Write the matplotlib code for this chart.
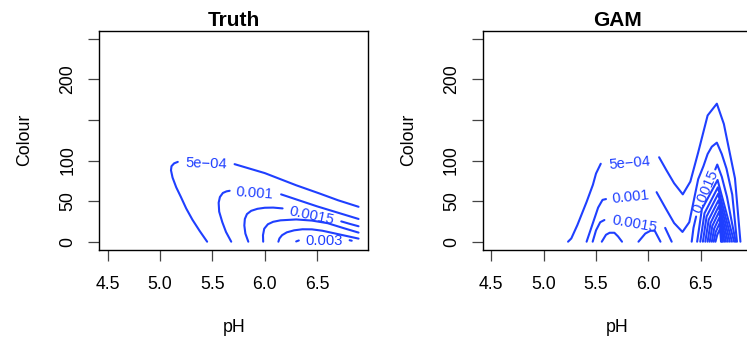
import matplotlib
matplotlib.use("Agg")
import matplotlib.pyplot as plt

plt.rcParams['font.family'] = ['Liberation Sans', 'DejaVu Sans']

BLUE = '#1f3fff'

# axis ticks shared by both panels
ph_ticks = [4.5, 5.0, 5.5, 6.0, 6.5]
ph_labels = ['4.5', '5.0', '5.5', '6.0', '6.5']
colour_ticks = [0, 50, 100, 150, 200, 250]
colour_labels = ['0', '50', '100', '', '200', '']

# ---- Truth: contour pieces as (pH, Colour), split where labels sit ----
truth_0005 = [
    ([5.45, 5.38, 5.31, 5.25, 5.20, 5.155, 5.12, 5.105, 5.11, 5.135, 5.17],
     [0, 13, 27, 41, 55, 67, 79, 88, 93, 96.5, 98.3]),
    ([5.712, 6.0, 6.3, 6.52, 6.7, 6.895], [95.5, 84.5, 69.5, 59.5, 51, 43]),
]
truth_0010 = [
    ([5.68, 5.63, 5.595, 5.565, 5.56, 5.572, 5.6, 5.635, 5.665],
     [0, 12, 24, 37, 48, 55, 60, 62, 62.7]),
    ([6.156, 6.5, 6.895], [58.3, 43.5, 28]),
]
truth_0015 = [
    ([5.843, 5.815, 5.805, 5.81, 5.83, 5.87, 5.93, 6.0, 6.08, 6.17],
     [0, 10, 20, 28, 34, 38, 40.5, 41.8, 42, 41]),
    ([6.73, 6.81, 6.895], [25, 22, 19]),
]
truth_0020 = [
    ([5.985, 5.983, 5.995, 6.03, 6.08, 6.15, 6.3, 6.45, 6.6, 6.75, 6.895],
     [0, 8, 16, 21.5, 24.5, 26.3, 27.4, 26, 22.8, 16.8, 11.2]),
]
truth_0025 = [
    ([6.13, 6.14, 6.165, 6.21, 6.28, 6.36, 6.45, 6.55, 6.7, 6.895],
     [0, 4, 8, 11.5, 14, 15.3, 15.2, 13.5, 9.3, 3.8]),
]
truth_0030 = [
    ([6.30, 6.325], [0.3, 1.5]),
    ([6.81, 6.83], [1.8, 1.2]),
]
truth_lab_text = ['5e\u221204', '0.001', '0.0015', '0.003']
truth_lab_ph = [5.445, 5.905, 6.45, 6.565]
truth_lab_col = [95.5, 59.5, 32, 0.8]
truth_lab_rot = [-2, -4, -12, 0]

# ---- GAM ----
gam_0005 = [
    ([5.233, 5.264, 5.322, 5.41, 5.47, 5.5, 5.545], [0, 4, 20.5, 49, 70, 84, 96]),
    ([6.102, 6.172, 6.245, 6.328, 6.40, 6.475, 6.565, 6.653, 6.72, 6.78, 6.826, 6.878],
     [104, 88, 72, 58.3, 74, 110, 155.5, 170, 145, 107, 78, 0]),
]
gam_0010 = [
    ([5.41, 5.465, 5.52, 5.562, 5.595], [0, 21, 42, 51.5, 52.5]),
    ([6.078, 6.165, 6.245, 6.325, 6.39, 6.475, 6.525, 6.565, 6.605, 6.653, 6.70, 6.745, 6.80, 6.845],
     [61, 41, 23, 12, 24, 77, 93, 108, 117, 122, 108, 90, 58, 0]),
]
gam_0015 = [
    ([5.468, 5.50, 5.54, 5.58], [0, 14, 24, 26.7]),
    ([6.16, 6.222], [17, 0]),
    ([6.413, 6.43, 6.455], [0, 17, 31]),
    ([6.638, 6.657, 6.70, 6.75, 6.79, 6.833], [89, 95, 80, 55, 28, 0]),
]
gam_0020 = [
    ([5.555, 5.595, 5.63, 5.675, 5.71, 5.748], [0, 8.5, 11, 11, 6.5, 0]),
    ([5.905, 5.97, 6.02, 6.06, 6.115], [0, 10, 13.5, 13.5, 0]),
]
# the dense inner contours of the right hump (0.002 and up)
hump_left = [6.465, 6.495, 6.52, 6.543, 6.565, 6.585, 6.605, 6.623, 6.64]
hump_mid_ph = [6.51, 6.535, 6.555, 6.575, 6.593, 6.61, 6.627, 6.642, 6.657]
hump_mid_col = [40, 35, 31, 27, 23, 19.5, 16, 12, 8.5]
hump_peak_ph = [6.66, 6.663, 6.666, 6.669, 6.672, 6.675, 6.678, 6.681, 6.684]
hump_peak_col = [76, 67, 59, 51, 44, 37, 30, 23, 16]
hump_right = [6.818, 6.797, 6.777, 6.758, 6.74, 6.724, 6.71, 6.70, 6.693]

gam_lab_text = ['5e\u221204', '0.001', '0.0015', '0.0015']
gam_lab_ph = [5.826, 5.834, 5.87, 6.548]
gam_lab_col = [96.4, 55.3, 21.5, 61.5]
gam_lab_rot = [5, 6, -10, 67]

LW = 1.5


def draw_pieces(ax, pieces):
    for xs, ys in pieces:
        ax.plot(xs, ys, color=BLUE, lw=LW, solid_capstyle='round',
                solid_joinstyle='round')


def draw_labels(ax, texts, xs, ys, rots):
    for t, x, y, r in zip(texts, xs, ys, rots):
        ax.text(x, y, t, color=BLUE, fontsize=10.6, rotation=r,
                rotation_mode='anchor', ha='center', va='center')


def setup(ax, title):
    ax.set_xlim(4.42, 6.99)
    ax.set_ylim(-10, 260)
    ax.set_xticks(ph_ticks)
    ax.set_xticklabels(ph_labels)
    ax.set_yticks(colour_ticks)
    ax.set_yticklabels(colour_labels)
    ax.tick_params(length=7.7, width=0.9, color='#444444', labelsize=12.7)
    ax.tick_params(axis='x', pad=11.5)
    ax.tick_params(axis='y', pad=8.7, labelrotation=90)
    for lab in ax.get_yticklabels():
        lab.set_va('center')
    for sp in ax.spines.values():
        sp.set_linewidth(1.0)
        sp.set_color('black')
    ax.set_xlabel('pH', fontsize=12.8)
    ax.set_ylabel('Colour', fontsize=12.8)
    ax.xaxis.set_label_coords(0.5, -0.316)
    ax.yaxis.set_label_coords(-0.244, 0.5)
    ax.text(0.5, 1.021, title, transform=ax.transAxes, ha='center',
            va='baseline', fontsize=15, fontweight='bold')


fig = plt.figure(figsize=(7.47, 3.39), dpi=100)
ax1 = fig.add_axes([0.1328, 0.2631, 0.3605, 0.6466])
ax2 = fig.add_axes([0.6464, 0.2631, 0.3605, 0.6466])

setup(ax1, 'Truth')
for pieces in [truth_0005, truth_0010, truth_0015, truth_0020, truth_0025, truth_0030]:
    draw_pieces(ax1, pieces)
draw_labels(ax1, truth_lab_text, truth_lab_ph, truth_lab_col, truth_lab_rot)

setup(ax2, 'GAM')
for pieces in [gam_0005, gam_0010, gam_0015, gam_0020]:
    draw_pieces(ax2, pieces)
for xl, xm, ym, xp, yp, xr in zip(hump_left, hump_mid_ph, hump_mid_col,
                                  hump_peak_ph, hump_peak_col, hump_right):
    ax2.plot([xl, xm, xp, xr], [0, ym, yp, 0], color=BLUE, lw=LW,
             solid_capstyle='round', solid_joinstyle='round')
draw_labels(ax2, gam_lab_text, gam_lab_ph, gam_lab_col, gam_lab_rot)

fig.savefig('out.png', dpi=100)
